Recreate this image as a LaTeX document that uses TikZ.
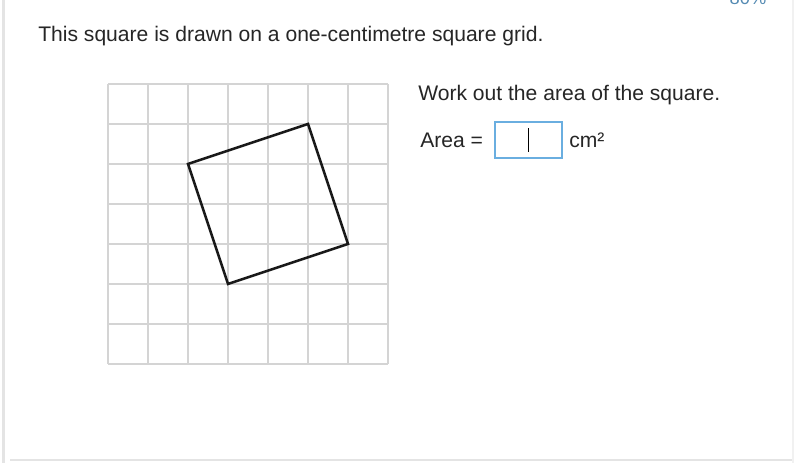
\documentclass[tikz,border=0pt]{standalone}
\usepackage{fontspec}
\setmainfont{Liberation Sans}
\usepackage[svgnames, dvipsnames]{xcolor}
\usetikzlibrary{calc, positioning}
\definecolor{gridgrey}{HTML}{D4D4D4}
\definecolor{boxblue}{HTML}{6AAEE0}
\definecolor{pagegrey}{HTML}{E4E4E4}
\tikzset{
  qtext/.style={anchor=west, inner sep=0pt, font=\fontsize{15}{18}\selectfont, text=black!85},
  gridline/.style={gridgrey, line width=0.8pt},
  shape line/.style={black!90, line width=1.8pt, line join=miter}
}

\begin{document}
\begin{tikzpicture}
\useasboundingbox[fill=white] (0,0) rectangle (20,11.575);
% page edges
\draw[pagegrey, line width=2pt] (0.09,0) -- (0.09,11.575);
\draw[pagegrey, line width=1.4pt] (0.25,0.08) -- (19.82,0.08);
\draw[pagegrey!50, line width=1pt] (19.82,0) -- (19.82,11.575);
\node[anchor=south, inner sep=0pt, text=boxblue!80!black, font=\fontsize{13}{15}\selectfont] (zoom) at (18.7,11.45) {80\%};
% question
\node[qtext] (title) at (0.95,10.675) {This square is drawn on a one-centimetre square grid.};
\node[qtext] (task) at (10.45,9.2) {Work out the area of the square.};
\node[qtext] (arealabel) at (10.5,8.075) {Area =};
\draw[boxblue, line width=1.3pt] (12.375,7.625) rectangle (14.05,8.525);
\coordinate (answerbox) at (13.21,8.075);
\draw[black, line width=0.7pt] ($(answerbox)+(0,-0.3)$) -- ($(answerbox)+(0,0.3)$);
\node[qtext] (unit) at (14.225,8.075) {cm²};
% grid and square
\begin{scope}[shift={(2.7,2.475)}]
\draw[gridline] (0,0) grid (7,7);
\coordinate (A) at (2,5);
\coordinate (B) at (5,6);
\coordinate (C) at (6,3);
\coordinate (D) at (3,2);
\draw[shape line] (A) -- (B) -- (C) -- (D) -- cycle;
\end{scope}
\end{tikzpicture}
\end{document}
